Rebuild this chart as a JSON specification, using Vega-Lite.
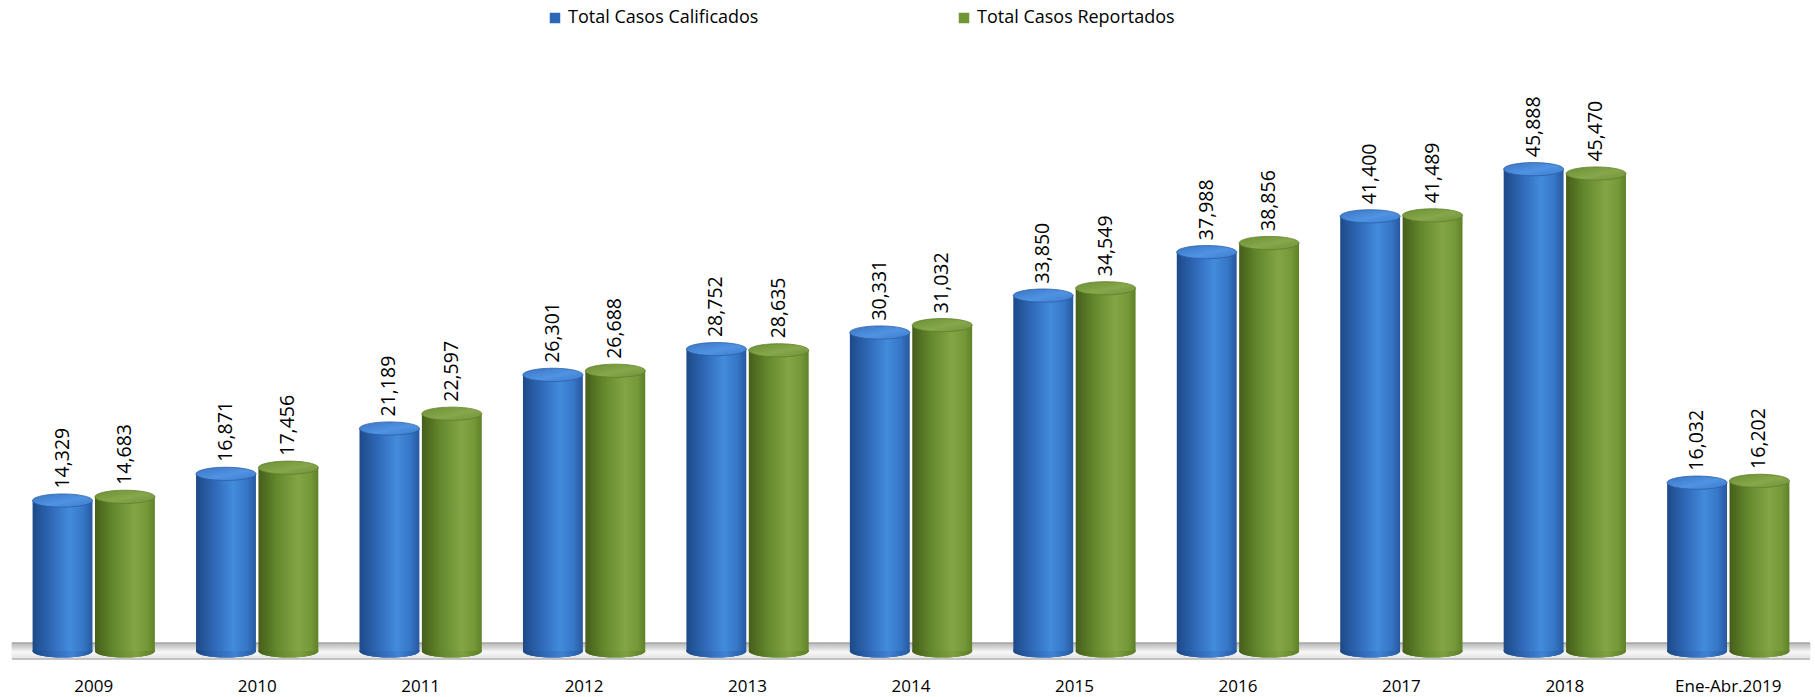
{
  "$schema": "https://vega.github.io/schema/vega-lite/v6.json",
  "width": 1798,
  "height": 570,
  "autosize": {"type": "none"},
  "padding": {"left": 12, "top": 81, "right": 5, "bottom": 46},
  "background": "white",
  "config": {"view": {"stroke": null}, "font": "Open Sans"},
  "datasets": {
    "casos": [
      {"periodo": "2009", "serie": "Total Casos Calificados", "valor": 14329},
      {"periodo": "2009", "serie": "Total Casos Reportados", "valor": 14683},
      {"periodo": "2010", "serie": "Total Casos Calificados", "valor": 16871},
      {"periodo": "2010", "serie": "Total Casos Reportados", "valor": 17456},
      {"periodo": "2011", "serie": "Total Casos Calificados", "valor": 21189},
      {"periodo": "2011", "serie": "Total Casos Reportados", "valor": 22597},
      {"periodo": "2012", "serie": "Total Casos Calificados", "valor": 26301},
      {"periodo": "2012", "serie": "Total Casos Reportados", "valor": 26688},
      {"periodo": "2013", "serie": "Total Casos Calificados", "valor": 28752},
      {"periodo": "2013", "serie": "Total Casos Reportados", "valor": 28635},
      {"periodo": "2014", "serie": "Total Casos Calificados", "valor": 30331},
      {"periodo": "2014", "serie": "Total Casos Reportados", "valor": 31032},
      {"periodo": "2015", "serie": "Total Casos Calificados", "valor": 33850},
      {"periodo": "2015", "serie": "Total Casos Reportados", "valor": 34549},
      {"periodo": "2016", "serie": "Total Casos Calificados", "valor": 37988},
      {"periodo": "2016", "serie": "Total Casos Reportados", "valor": 38856},
      {"periodo": "2017", "serie": "Total Casos Calificados", "valor": 41400},
      {"periodo": "2017", "serie": "Total Casos Reportados", "valor": 41489},
      {"periodo": "2018", "serie": "Total Casos Calificados", "valor": 45888},
      {"periodo": "2018", "serie": "Total Casos Reportados", "valor": 45470},
      {"periodo": "Ene-Abr.2019", "serie": "Total Casos Calificados", "valor": 16032},
      {"periodo": "Ene-Abr.2019", "serie": "Total Casos Reportados", "valor": 16202}
    ],
    "piso": [
      {"periodo": "2009", "arriba": 762, "abajo": -762},
      {"periodo": "2010", "arriba": 762, "abajo": -762},
      {"periodo": "2011", "arriba": 762, "abajo": -762},
      {"periodo": "2012", "arriba": 762, "abajo": -762},
      {"periodo": "2013", "arriba": 762, "abajo": -762},
      {"periodo": "2014", "arriba": 762, "abajo": -762},
      {"periodo": "2015", "arriba": 762, "abajo": -762},
      {"periodo": "2016", "arriba": 762, "abajo": -762},
      {"periodo": "2017", "arriba": 762, "abajo": -762},
      {"periodo": "2018", "arriba": 762, "abajo": -762},
      {"periodo": "Ene-Abr.2019", "arriba": 762, "abajo": -762}
    ],
    "bordes": [{"nivel": 762}, {"nivel": -762}]
  },
  "data": {"name": "casos"},
  "layer": [
    {
      "data": {"name": "piso"},
      "mark": {
        "type": "bar",
        "fill": {"gradient": "linear", "x1": 0, "y1": 0, "x2": 0, "y2": 1, "stops": [
          {"offset": 0, "color": "#b8b8b8"},
          {"offset": 0.35, "color": "#dcdcdc"},
          {"offset": 0.55, "color": "#f8f8f8"},
          {"offset": 1, "color": "#e2e2e2"}
        ]},
        "stroke": {"gradient": "linear", "x1": 0, "y1": 0, "x2": 0, "y2": 1, "stops": [
          {"offset": 0, "color": "#b8b8b8"},
          {"offset": 0.35, "color": "#dcdcdc"},
          {"offset": 0.55, "color": "#f8f8f8"},
          {"offset": 1, "color": "#e2e2e2"}
        ]},
        "strokeWidth": 0.8
      },
      "encoding": {
        "x": {"field": "periodo", "type": "nominal", "sort": null, "scale": {"paddingInner": 0, "paddingOuter": 0},
          "axis": {"title": null, "domain": false, "ticks": false, "labelAngle": 0, "labelFont": "Open Sans", "labelFontSize": 17, "labelColor": "#000000", "labelPadding": 27}},
        "y": {"field": "arriba", "type": "quantitative", "scale": {"domain": [0, 54286], "nice": false, "zero": true}, "axis": null},
        "y2": {"field": "abajo"}
      }
    },
    {
      "data": {"name": "bordes"},
      "mark": {"type": "rule", "stroke": "#9a9a9a", "strokeWidth": 1},
      "encoding": {
        "y": {"field": "nivel", "type": "quantitative"}
      }
    },
    {
      "mark": {"type": "point", "filled": true, "opacity": 1, "size": 3600, "strokeWidth": 0,
        "shape": "M -1 0 A 1 0.22 0 1 1 1 0 A 1 0.22 0 1 1 -1 0 Z"},
      "encoding": {
        "x": {"field": "periodo", "type": "nominal", "sort": null},
        "xOffset": {"field": "serie", "type": "nominal", "scale": {"paddingInner": 0.04, "paddingOuter": 0.33}},
        "y": {"datum": 0, "type": "quantitative"},
        "color": {"field": "serie", "type": "nominal",
          "scale": {"domain": ["Total Casos Calificados", "Total Casos Reportados"], "range": ["#2e66b8", "#6f9535"]},
          "legend": {"title": null, "orient": "none", "direction": "horizontal", "legendX": 534, "legendY": -72,
            "symbolType": "square", "symbolSize": 110, "symbolStrokeWidth": 0, "labelFont": "Open Sans", "labelFontSize": 18,
            "labelColor": "#000000", "labelOffset": 4, "columnPadding": 196, "labelLimit": 400}}
      }
    },
    {
      "transform": [{"filter": "datum.serie === 'Total Casos Calificados'"}],
      "mark": {"type": "point", "filled": true, "opacity": 1, "size": 3600, "strokeWidth": 0,
        "shape": "M -1 0 A 1 0.22 0 1 1 1 0 A 1 0.22 0 1 1 -1 0 Z",
        "fill": {"gradient": "linear", "x1": 0, "y1": 0, "x2": 1, "y2": 0, "stops": [
          {"offset": 0, "color": "#1b4580"}, {"offset": 0.35, "color": "#2f68b5"}, {"offset": 0.65, "color": "#3f82d4"}, {"offset": 1, "color": "#2358a0"}]}},
      "encoding": {
        "x": {"field": "periodo", "type": "nominal", "sort": null},
        "xOffset": {"field": "serie", "type": "nominal"},
        "y": {"datum": 0, "type": "quantitative"}
      }
    },
    {
      "transform": [{"filter": "datum.serie === 'Total Casos Reportados'"}],
      "mark": {"type": "point", "filled": true, "opacity": 1, "size": 3600, "strokeWidth": 0,
        "shape": "M -1 0 A 1 0.22 0 1 1 1 0 A 1 0.22 0 1 1 -1 0 Z",
        "fill": {"gradient": "linear", "x1": 0, "y1": 0, "x2": 1, "y2": 0, "stops": [
          {"offset": 0, "color": "#435a18"}, {"offset": 0.35, "color": "#648a2e"}, {"offset": 0.68, "color": "#7ea040"}, {"offset": 1, "color": "#5b7d25"}]}},
      "encoding": {
        "x": {"field": "periodo", "type": "nominal", "sort": null},
        "xOffset": {"field": "serie", "type": "nominal"},
        "y": {"datum": 0, "type": "quantitative"}
      }
    },
    {
      "transform": [{"filter": "datum.serie === 'Total Casos Calificados'"}],
      "mark": {"type": "bar",
        "fill": {"gradient": "linear", "x1": 0, "y1": 0, "x2": 1, "y2": 0, "stops": [
          {"offset": 0, "color": "#1d4a88"}, {"offset": 0.3, "color": "#2f68b6"}, {"offset": 0.62, "color": "#438bdc"}, {"offset": 0.85, "color": "#3676c6"}, {"offset": 1, "color": "#27589f"}]}},
      "encoding": {
        "x": {"field": "periodo", "type": "nominal", "sort": null},
        "xOffset": {"field": "serie", "type": "nominal"},
        "y": {"field": "valor", "type": "quantitative"},
        "y2": {"datum": 0}
      }
    },
    {
      "transform": [{"filter": "datum.serie === 'Total Casos Reportados'"}],
      "mark": {"type": "bar",
        "fill": {"gradient": "linear", "x1": 0, "y1": 0, "x2": 1, "y2": 0, "stops": [
          {"offset": 0, "color": "#465e1a"}, {"offset": 0.3, "color": "#62872c"}, {"offset": 0.66, "color": "#84a545"}, {"offset": 0.87, "color": "#759838"}, {"offset": 1, "color": "#5f8228"}]}},
      "encoding": {
        "x": {"field": "periodo", "type": "nominal", "sort": null},
        "xOffset": {"field": "serie", "type": "nominal"},
        "y": {"field": "valor", "type": "quantitative"},
        "y2": {"datum": 0}
      }
    },
    {
      "transform": [{"filter": "datum.serie === 'Total Casos Calificados'"}],
      "mark": {"type": "point", "filled": true, "opacity": 1, "size": 3600, "strokeWidth": 0.8, "stroke": "#2a5ea8",
        "shape": "M -1 0 A 1 0.22 0 1 1 1 0 A 1 0.22 0 1 1 -1 0 Z",
        "fill": {"gradient": "linear", "x1": 0, "y1": 0, "x2": 1, "y2": 1, "stops": [
          {"offset": 0, "color": "#3a74c2"}, {"offset": 0.55, "color": "#4f93e2"}, {"offset": 1, "color": "#3d7bcb"}]}},
      "encoding": {
        "x": {"field": "periodo", "type": "nominal", "sort": null},
        "xOffset": {"field": "serie", "type": "nominal"},
        "y": {"field": "valor", "type": "quantitative"}
      }
    },
    {
      "transform": [{"filter": "datum.serie === 'Total Casos Reportados'"}],
      "mark": {"type": "point", "filled": true, "opacity": 1, "size": 3600, "strokeWidth": 0.8, "stroke": "#5f7f2a",
        "shape": "M -1 0 A 1 0.22 0 1 1 1 0 A 1 0.22 0 1 1 -1 0 Z",
        "fill": {"gradient": "linear", "x1": 0, "y1": 0, "x2": 1, "y2": 1, "stops": [
          {"offset": 0, "color": "#6a8f33"}, {"offset": 0.55, "color": "#86a74a"}, {"offset": 1, "color": "#728f3b"}]}},
      "encoding": {
        "x": {"field": "periodo", "type": "nominal", "sort": null},
        "xOffset": {"field": "serie", "type": "nominal"},
        "y": {"field": "valor", "type": "quantitative"}
      }
    },
    {
      "mark": {"type": "text", "angle": 270, "align": "left", "baseline": "middle", "dx": 12, "font": "Open Sans", "fontSize": 19.5, "color": "#000000"},
      "encoding": {
        "x": {"field": "periodo", "type": "nominal", "sort": null},
        "xOffset": {"field": "serie", "type": "nominal"},
        "y": {"field": "valor", "type": "quantitative"},
        "text": {"field": "valor", "type": "quantitative", "format": ",d"}
      }
    }
  ]
}
